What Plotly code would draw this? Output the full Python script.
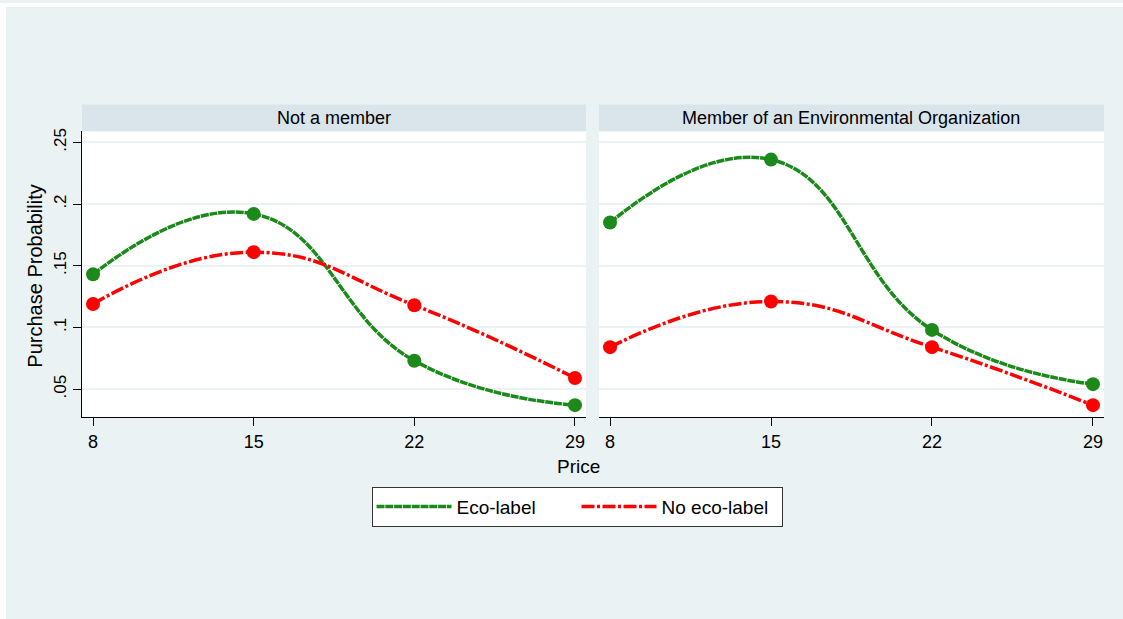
import plotly.graph_objects as go

price = [8, 15, 22, 29]
panels = ["Not a member", "Member of an Environmental Organization"]
eco_not_member = [0.143, 0.192, 0.073, 0.037]
noeco_not_member = [0.119, 0.161, 0.118, 0.059]
eco_member = [0.185, 0.236, 0.098, 0.054]
noeco_member = [0.084, 0.121, 0.084, 0.037]
series_names = ["Eco-label", "No eco-label"]
y_ticks = [0.05, 0.1, 0.15, 0.2, 0.25]
y_tick_text = [".05", ".1", ".15", ".2", ".25"]

W, H = 1123, 619
GREEN = "#1b8a1b"
RED = "#ff0000"
BG = "#eaf2f3"
STRIP = "#d9e5ea"
FONT = "Liberation Sans, Arial, sans-serif"


def px(x):
    return x / W


def py(y):
    return 1 - y / H


fig = go.Figure()

data = [(eco_not_member, noeco_not_member, "x", "y"),
        (eco_member, noeco_member, "x2", "y2")]

for i, (eco, noeco, xa, ya) in enumerate(data):
    for vals, name, color, dash in [(eco, series_names[0], GREEN, "8px,0.8px"),
                                    (noeco, series_names[1], RED, "13px,2.5px,3px,2.5px")]:
        fig.add_trace(go.Scatter(
            x=price, y=vals, mode="lines", name=name, xaxis=xa, yaxis=ya,
            line=dict(color=color, width=3.5, dash=dash, shape="spline", smoothing=1.3),
            showlegend=(i == 0), legendgroup=name, hoverinfo="skip"))
    for vals, name, color in [(eco, series_names[0], GREEN), (noeco, series_names[1], RED)]:
        fig.add_trace(go.Scatter(
            x=price, y=vals, mode="markers", xaxis=xa, yaxis=ya,
            marker=dict(color=color, size=14, line=dict(width=0)),
            showlegend=False, legendgroup=name, hoverinfo="skip"))

xrange_ = [7.52, 29.48]
yrange_ = [0.0274, 0.2589]
ydom = [py(416), py(129)]

common_x = dict(range=xrange_, tickvals=price, ticks="outside", ticklen=8, tickwidth=1,
                tickcolor="black", showline=True, linecolor="black", linewidth=1,
                showgrid=False, zeroline=False, mirror=False,
                tickfont=dict(family=FONT, size=18, color="black"))

fig.update_layout(
    width=W, height=H,
    margin=dict(l=0, r=0, t=0, b=0),
    paper_bgcolor=BG, plot_bgcolor="white",
    font=dict(family=FONT, color="black"),
    xaxis=dict(domain=[px(82), px(586)], anchor="y", **common_x),
    xaxis2=dict(domain=[px(599), px(1104)], anchor="y2", **common_x),
    yaxis=dict(domain=ydom, anchor="x", range=yrange_, tickvals=y_ticks, ticktext=y_tick_text,
               ticks="outside", ticklen=8, tickcolor="black", tickangle=-90,
               showline=True, linecolor="black", linewidth=1,
               showgrid=True, gridcolor=BG, gridwidth=1.5, zeroline=False,
               tickfont=dict(family=FONT, size=17, color="black")),
    yaxis2=dict(domain=ydom, anchor="x2", range=yrange_, tickvals=y_ticks,
                showticklabels=False, ticks="", showline=False,
                showgrid=True, gridcolor=BG, gridwidth=1.5, zeroline=False),
    legend=dict(orientation="h", x=px(577), xanchor="center", y=py(486), yanchor="top",
                bgcolor="white", bordercolor="#333333", borderwidth=1,
                font=dict(family=FONT, size=19, color="black"),
                itemwidth=75, tracegroupgap=0, entrywidth=115, entrywidthmode="pixels"),
    showlegend=True,
)

shapes = [
    dict(type="rect", xref="paper", yref="paper", x0=0, x1=px(6), y0=0, y1=1,
         fillcolor="white", line=dict(width=0), layer="above"),
    dict(type="rect", xref="paper", yref="paper", x0=0, x1=1, y0=py(4), y1=1,
         fillcolor="white", line=dict(width=0), layer="above"),
    dict(type="rect", xref="paper", yref="paper", x0=px(82), x1=px(586), y0=py(129), y1=py(102),
         fillcolor=STRIP, line=dict(width=0), layer="below"),
    dict(type="rect", xref="paper", yref="paper", x0=px(599), x1=px(1104), y0=py(129), y1=py(102),
         fillcolor=STRIP, line=dict(width=0), layer="below"),
]
fig.update_layout(shapes=shapes)

annotations = [
    dict(text=panels[0], xref="paper", yref="paper", x=px(334), y=py(115.5),
         xanchor="center", yanchor="middle", showarrow=False,
         font=dict(family=FONT, size=18, color="black")),
    dict(text=panels[1], xref="paper", yref="paper", x=px(851), y=py(115.5),
         xanchor="center", yanchor="middle", showarrow=False,
         font=dict(family=FONT, size=18, color="black")),
    dict(text="Price", xref="paper", yref="paper", x=px(578), y=py(466),
         xanchor="center", yanchor="middle", showarrow=False,
         font=dict(family=FONT, size=19, color="black")),
    dict(text="Purchase Probability", xref="paper", yref="paper", x=px(35), y=py(275),
         xanchor="center", yanchor="middle", showarrow=False, textangle=-90,
         font=dict(family=FONT, size=20, color="black")),
]
fig.update_layout(annotations=annotations)

fig.write_html("out.html", config={"displayModeBar": False},
               post_script="document.body.style.margin='0px';document.body.style.padding='0px';")
